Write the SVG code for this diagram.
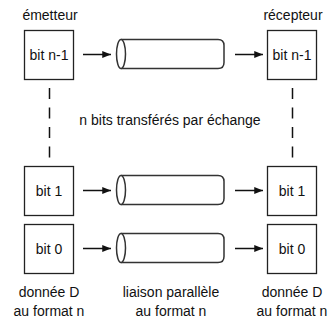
<svg xmlns="http://www.w3.org/2000/svg" width="332" height="323" viewBox="0 0 332 323">
<defs>
<style>
text{font-family:"Liberation Sans",Arial,sans-serif;font-size:14px;fill:#111;text-anchor:middle}
.box{fill:#fff;stroke:#222;stroke-width:1.3}
.cyl{fill:#fff;stroke:#333;stroke-width:1.5}
.arr{stroke:#111;stroke-width:1.5;fill:none;marker-end:url(#ah)}
.dash{stroke:#111;stroke-width:1.5;stroke-dasharray:11 8.5;fill:none}
</style>
<marker id="ah" viewBox="0 0 10 8" refX="10" refY="4" markerWidth="9" markerHeight="7" markerUnits="userSpaceOnUse" orient="auto">
<path d="M0,0 L10,4 L0,8 Z" fill="#111"/>
</marker>
<g id="cylshape">
<path class="cyl" d="M121,0 H218 Q224,0 224,6 V23 Q224,29 218,29 H121"/>
<ellipse class="cyl" cx="121" cy="14.5" rx="4.5" ry="14.5"/>
</g>
</defs>
<text x="50" y="20">émetteur</text>
<text x="293" y="20">récepteur</text>
<g id="tx-n1"><rect class="box" x="24.5" y="30.5" width="49" height="49"/><text x="49" y="60">bit n-1</text></g>
<g id="tx-1"><rect class="box" x="24.5" y="166.5" width="49" height="49"/><text x="49" y="196">bit 1</text></g>
<g id="tx-0"><rect class="box" x="24.5" y="224.5" width="49" height="49"/><text x="49" y="254">bit 0</text></g>
<g id="rx-n1"><rect class="box" x="267.5" y="30.5" width="49" height="49"/><text x="292" y="60">bit n-1</text></g>
<g id="rx-1"><rect class="box" x="267.5" y="166.5" width="49" height="49"/><text x="292" y="196">bit 1</text></g>
<g id="rx-0"><rect class="box" x="267.5" y="224.5" width="49" height="49"/><text x="292" y="254">bit 0</text></g>
<g id="link-n1"><use href="#cylshape" y="39.5"/></g>
<g id="link-1"><use href="#cylshape" y="175.5"/></g>
<g id="link-0"><use href="#cylshape" y="233.5"/></g>
<g id="connectors">
<line class="arr" x1="83" y1="54.5" x2="111" y2="54.5"/>
<line class="arr" x1="83" y1="190.5" x2="111" y2="190.5"/>
<line class="arr" x1="83" y1="248.5" x2="111" y2="248.5"/>
<line class="arr" x1="235" y1="54.5" x2="263" y2="54.5"/>
<line class="arr" x1="235" y1="190.5" x2="263" y2="190.5"/>
<line class="arr" x1="235" y1="248.5" x2="263" y2="248.5"/>
<line class="dash" x1="49.5" y1="88" x2="49.5" y2="158"/>
<line class="dash" x1="292.5" y1="88" x2="292.5" y2="158"/>
</g>
<text x="170" y="125">n bits transférés par échange</text>
<text x="49" y="297">donnée D</text>
<text x="49" y="316">au format n</text>
<text x="171" y="297">liaison parallèle</text>
<text x="171" y="316">au format n</text>
<text x="292" y="297">donnée D</text>
<text x="292" y="316">au format n</text>
</svg>
